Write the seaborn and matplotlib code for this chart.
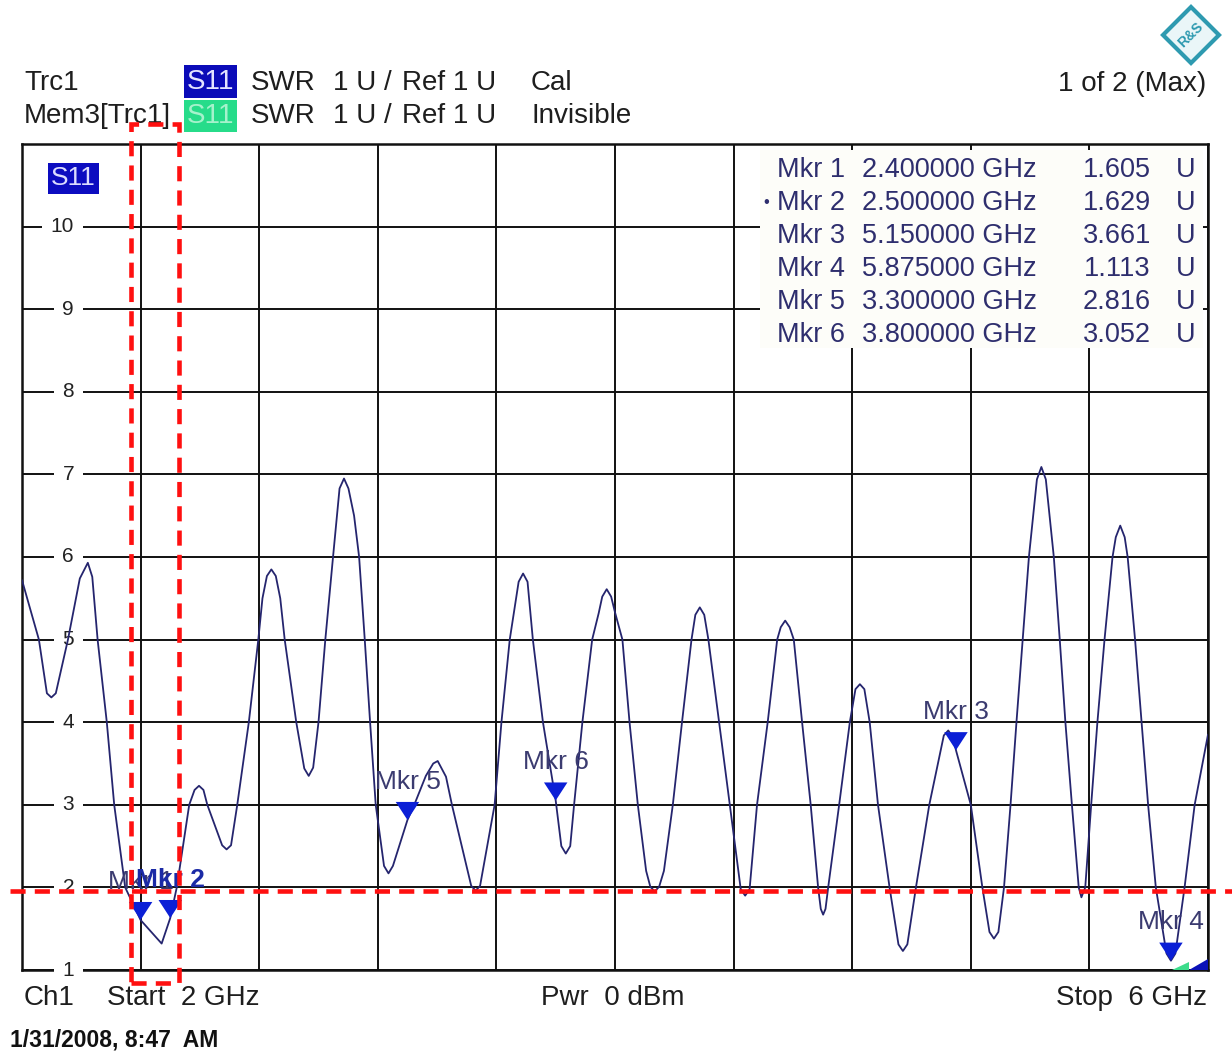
import matplotlib
matplotlib.use("Agg")
import matplotlib.pyplot as plt
import matplotlib.transforms as mtransforms
from matplotlib.path import Path
from matplotlib.markers import MarkerStyle
from matplotlib.patches import Rectangle, Polygon
from matplotlib.lines import Line2D
import seaborn as sns
import pandas as pd

# ---------------- data ----------------
freq_ghz = [
    2.000, 2.057, 2.084, 2.099, 2.114, 2.155, 2.195, 2.222, 2.237, 2.255,
    2.286, 2.311, 2.348, 2.400, 2.471, 2.500, 2.522, 2.564, 2.582, 2.597,
    2.612, 2.625, 2.675, 2.690, 2.705, 2.726, 2.765, 2.797, 2.811, 2.826,
    2.841, 2.856, 2.871, 2.886, 2.925, 2.952, 2.967, 2.982, 3.000, 3.023,
    3.049, 3.071, 3.086, 3.101, 3.120, 3.137, 3.156, 3.174, 3.193, 3.221,
    3.236, 3.251, 3.300, 3.323, 3.362, 3.387, 3.402, 3.430, 3.450, 3.515,
    3.530, 3.545, 3.594, 3.617, 3.645, 3.675, 3.690, 3.705, 3.723, 3.757,
    3.800, 3.819, 3.834, 3.849, 3.862, 3.890, 3.923, 3.945, 3.957, 3.972,
    3.987, 4.000, 4.025, 4.049, 4.077, 4.105, 4.119, 4.134, 4.149, 4.165,
    4.195, 4.226, 4.258, 4.271, 4.286, 4.301, 4.315, 4.351, 4.387, 4.424,
    4.439, 4.454, 4.479, 4.515, 4.547, 4.559, 4.574, 4.589, 4.603, 4.631,
    4.660, 4.685, 4.694, 4.702, 4.710, 4.719, 4.756, 4.792, 4.811, 4.826,
    4.841, 4.859, 4.887, 4.926, 4.956, 4.971, 4.986, 5.015, 5.060, 5.109,
    5.124, 5.139, 5.150, 5.200, 5.239, 5.263, 5.278, 5.293, 5.312, 5.334,
    5.354, 5.375, 5.396, 5.423, 5.438, 5.453, 5.480, 5.500, 5.519, 5.541,
    5.564, 5.573, 5.586, 5.606, 5.627, 5.651, 5.678, 5.689, 5.704, 5.719,
    5.729, 5.754, 5.776, 5.798, 5.824, 5.860, 5.875, 5.890, 5.921, 5.955,
    6.000]
swr = [
    5.72, 5.00, 4.35, 4.30, 4.35, 5.00, 5.74, 5.93, 5.76, 5.00,
    4.00, 3.00, 2.00, 1.605, 1.32, 1.629, 2.00, 3.00, 3.18, 3.23,
    3.18, 3.00, 2.51, 2.46, 2.51, 3.00, 4.00, 5.00, 5.50, 5.77,
    5.85, 5.77, 5.50, 5.00, 4.00, 3.44, 3.35, 3.45, 4.00, 5.00,
    6.00, 6.83, 6.95, 6.83, 6.50, 6.00, 5.00, 4.00, 3.00, 2.26,
    2.17, 2.26, 2.816, 3.00, 3.35, 3.50, 3.53, 3.34, 3.00, 2.02,
    1.96, 2.02, 3.00, 4.00, 5.00, 5.70, 5.80, 5.70, 5.00, 4.00,
    3.052, 2.50, 2.41, 2.50, 3.00, 4.00, 5.00, 5.32, 5.52, 5.61,
    5.52, 5.33, 5.00, 4.00, 3.00, 2.20, 2.01, 1.95, 2.01, 2.20,
    3.00, 4.00, 5.00, 5.30, 5.39, 5.30, 5.00, 4.00, 3.00, 1.98,
    1.90, 1.98, 3.00, 4.00, 5.00, 5.15, 5.23, 5.15, 5.00, 4.00,
    3.00, 2.00, 1.74, 1.67, 1.74, 2.00, 3.00, 4.00, 4.40, 4.46,
    4.40, 4.00, 3.00, 2.00, 1.31, 1.23, 1.31, 2.00, 3.00, 3.84,
    3.90, 3.82, 3.661, 3.00, 2.00, 1.46, 1.38, 1.46, 2.00, 3.00,
    4.00, 5.00, 6.00, 6.94, 7.09, 6.94, 6.00, 5.00, 4.00, 3.00,
    2.00, 1.88, 2.00, 3.00, 4.00, 5.00, 6.00, 6.24, 6.38, 6.24,
    6.00, 5.00, 4.00, 3.00, 2.00, 1.20, 1.113, 1.20, 2.00, 3.00,
    3.85]

marker_names = ["Mkr 1", "Mkr 2", "Mkr 3", "Mkr 4", "Mkr 5", "Mkr 6"]
marker_freq = [2.400, 2.500, 5.150, 5.875, 3.300, 3.800]
marker_swr = [1.605, 1.629, 3.661, 1.113, 2.816, 3.052]
marker_freq_text = ["2.400000 GHz", "2.500000 GHz", "5.150000 GHz",
                    "5.875000 GHz", "3.300000 GHz", "3.800000 GHz"]
marker_val_text = ["1.605", "1.629", "3.661", "1.113", "2.816", "3.052"]

x_grid = [2.0, 2.4, 2.8, 3.2, 3.6, 4.0, 4.4, 4.8, 5.2, 5.6, 6.0]
y_ticks = [1, 2, 3, 4, 5, 6, 7, 8, 9, 10, 11]
y_labels = ["1", "2", "3", "4", "5", "6", "7", "8", "9", "10", ""]

# ---------------- figure setup ----------------
sns.set_style("white")
plt.rcParams["font.family"] = ["Liberation Sans", "DejaVu Sans"]

W, H = 1232, 1055
fig = plt.figure(figsize=(W / 100, H / 100), dpi=100)
fig.patch.set_facecolor("white")


def fx(x):
    return x / W


def fy(y):
    return 1 - y / H


L, R, T, B = 22, 1208, 144, 970
ax = fig.add_axes([fx(L), fy(B), (R - L) / W, (B - T) / H])
ax.set_xlim(2.0, 6.0)
ax.set_ylim(1, 11)
ax.set_xticks(x_grid)
ax.set_yticks(y_ticks)
ax.set_axisbelow(True)
ax.grid(True, color="#111111", lw=1.4)
ax.tick_params(length=0, labelbottom=False, labelleft=False)
for s in ax.spines.values():
    s.set_color("#111111")
    s.set_linewidth(1.8)
    s.set_zorder(3)

# marker table background (covers grid)
ax.add_patch(Rectangle(((760 - L) / (R - L), (B - 348) / (B - T)),
                       (1203 - 760) / (R - L), (348 - 150) / (B - T),
                       transform=ax.transAxes, facecolor="#fdfdf9",
                       edgecolor="none", zorder=1))

# trace
df = pd.DataFrame({"freq": freq_ghz, "swr": swr})
sns.lineplot(data=df, x="freq", y="swr", ax=ax, color="#25256e", lw=1.3,
             zorder=4, sort=False, legend=False)
ax.set_xlabel("")
ax.set_ylabel("")

# marker triangles (tip at the marker value)
tri = Path([(-0.65, 1.0), (0.65, 1.0), (0.0, 0.0), (-0.65, 1.0)],
           [Path.MOVETO, Path.LINETO, Path.LINETO, Path.CLOSEPOLY])
mk = pd.DataFrame({"freq": marker_freq, "swr": marker_swr})
sns.scatterplot(data=mk, x="freq", y="swr", ax=ax, marker=MarkerStyle(tri),
                s=26 ** 2, color="#0b1fd6", edgecolor="none", zorder=5,
                legend=False)
ax.set_xlabel("")
ax.set_ylabel("")

order = [0, 2, 3, 4, 5, 1]
for i in order:
    bold = marker_names[i] == "Mkr 2"
    ax.annotate(marker_names[i], (marker_freq[i], marker_swr[i]),
                xytext=(0, 27.5), textcoords="offset points",
                ha="center", va="center", fontsize=19,
                fontweight="bold" if bold else "normal",
                color="#1b2aa6" if bold else "#3b3b70", zorder=6)

# y tick labels inside the plot with white gap in grid line
blend = mtransforms.blended_transform_factory(ax.transAxes, ax.transData)
for v, lab in zip(y_ticks, y_labels):
    if lab:
        ax.text((74 - L) / (R - L), v, lab, transform=blend, ha="right",
                va="center", fontsize=15, color="#222222", zorder=3.5,
                clip_on=False,
                bbox=dict(boxstyle="square,pad=0.42", fc="white", ec="none"))

# in-plot S11 label
ax.add_patch(Rectangle((fx(48), fy(194)), fx(51), 31 / H,
                       transform=fig.transFigure, facecolor="#0c0cc0",
                       edgecolor="none", zorder=6))
fig.text(fx(73.5), fy(178), "S11", ha="center", va="center", fontsize=19,
         color="#dcdcff", zorder=7)

# marker table text
tcol = "#2e2e6e"
row_y = [170, 203, 236, 269, 302, 335]
for i, yy in enumerate(row_y):
    fig.text(fx(777), fy(yy), marker_names[i], ha="left", va="center",
             fontsize=19.5, color=tcol)
    fig.text(fx(862), fy(yy), marker_freq_text[i], ha="left", va="center",
             fontsize=19.5, color=tcol)
    fig.text(fx(1151), fy(yy), marker_val_text[i], ha="right", va="center",
             fontsize=19.5, color=tcol)
    fig.text(fx(1176), fy(yy), "U", ha="left", va="center",
             fontsize=19.5, color=tcol)
fig.text(fx(766), fy(203), "\u2022", ha="center", va="center", fontsize=12,
         color=tcol)

# header
hcol = "#1e1e1e"
fig.text(fx(24), fy(83), "Trc1", ha="left", va="center", fontsize=20, color=hcol)
fig.text(fx(24), fy(116), "Mem3[Trc1]", ha="left", va="center", fontsize=20,
         color=hcol)
fig.add_artist(Rectangle((fx(184), fy(98)), fx(53), 33 / H,
                         transform=fig.transFigure, facecolor="#0b0bb8",
                         edgecolor="none"))
fig.text(fx(210.5), fy(82), "S11", ha="center", va="center", fontsize=20,
         color="#e4e4ff")
fig.add_artist(Rectangle((fx(184), fy(132)), fx(53), 32 / H,
                         transform=fig.transFigure, facecolor="#27dc8a",
                         edgecolor="none"))
fig.text(fx(210.5), fy(116), "S11", ha="center", va="center", fontsize=20,
         color="#a6f2cc")
for yy in (83, 116):
    fig.text(fx(251), fy(yy), "SWR", ha="left", va="center", fontsize=20,
             color=hcol)
    fig.text(fx(333), fy(yy), "1 U /", ha="left", va="center", fontsize=20,
             color=hcol)
    fig.text(fx(402), fy(yy), "Ref 1 U", ha="left", va="center", fontsize=20,
             color=hcol)
fig.text(fx(531), fy(83), "Cal", ha="left", va="center", fontsize=20, color=hcol)
fig.text(fx(531), fy(116), "Invisible", ha="left", va="center", fontsize=20,
         color=hcol)
fig.text(fx(1206), fy(84), "1 of 2 (Max)", ha="right", va="center",
         fontsize=20, color=hcol)

# R&S logo
cx, cy, r = 1191, 35, 28
fig.add_artist(Polygon([(fx(cx), fy(cy - r)), (fx(cx + r), fy(cy)),
                        (fx(cx), fy(cy + r)), (fx(cx - r), fy(cy))],
                       closed=True, transform=fig.transFigure,
                       facecolor="#eaf6f8", edgecolor="#2e9ab0", lw=3))
fig.text(fx(cx), fy(cy), "R&S", ha="center", va="center", fontsize=10,
         color="#2e9ab0", fontweight="bold", rotation=45)

# bottom info line
fig.text(fx(24), fy(998), "Ch1", ha="left", va="center", fontsize=20, color=hcol)
fig.text(fx(107), fy(998), "Start  2 GHz", ha="left", va="center", fontsize=20,
         color=hcol)
fig.text(fx(541), fy(998), "Pwr  0 dBm", ha="left", va="center", fontsize=20,
         color=hcol)
fig.text(fx(1207), fy(998), "Stop  6 GHz", ha="right", va="center",
         fontsize=20, color=hcol)
fig.text(fx(10), fy(1040), "1/31/2008, 8:47  AM", ha="left", va="center",
         fontsize=16.5, fontweight="bold", color="#111111")

# limit indicators bottom-right
ax.add_patch(Polygon([(0.970, 0.0), (0.984, 0.0), (0.984, 0.010)],
                     closed=True, transform=ax.transAxes, facecolor="#3ddc8c",
                     edgecolor="none", zorder=6, clip_on=False))
ax.add_patch(Polygon([(0.984, 0.0), (1.0, 0.0), (1.0, 0.0135)],
                     closed=True, transform=ax.transAxes, facecolor="#0b12b8",
                     edgecolor="none", zorder=6, clip_on=False))

# red dashed annotations
dash = (0, (3.3, 2.0))
fig.add_artist(Rectangle((fx(131), fy(983)), fx(179 - 131), (983 - 124) / H,
                         transform=fig.transFigure, fill=False,
                         edgecolor="#ff1010", lw=3.3, linestyle=dash,
                         zorder=10))
fig.add_artist(Line2D([fx(10), fx(1232)], [fy(890.5), fy(890.5)],
                      transform=fig.transFigure, color="#ff1010", lw=3.3,
                      linestyle=dash, zorder=10))

fig.savefig("out.png", dpi=100, facecolor="white")
